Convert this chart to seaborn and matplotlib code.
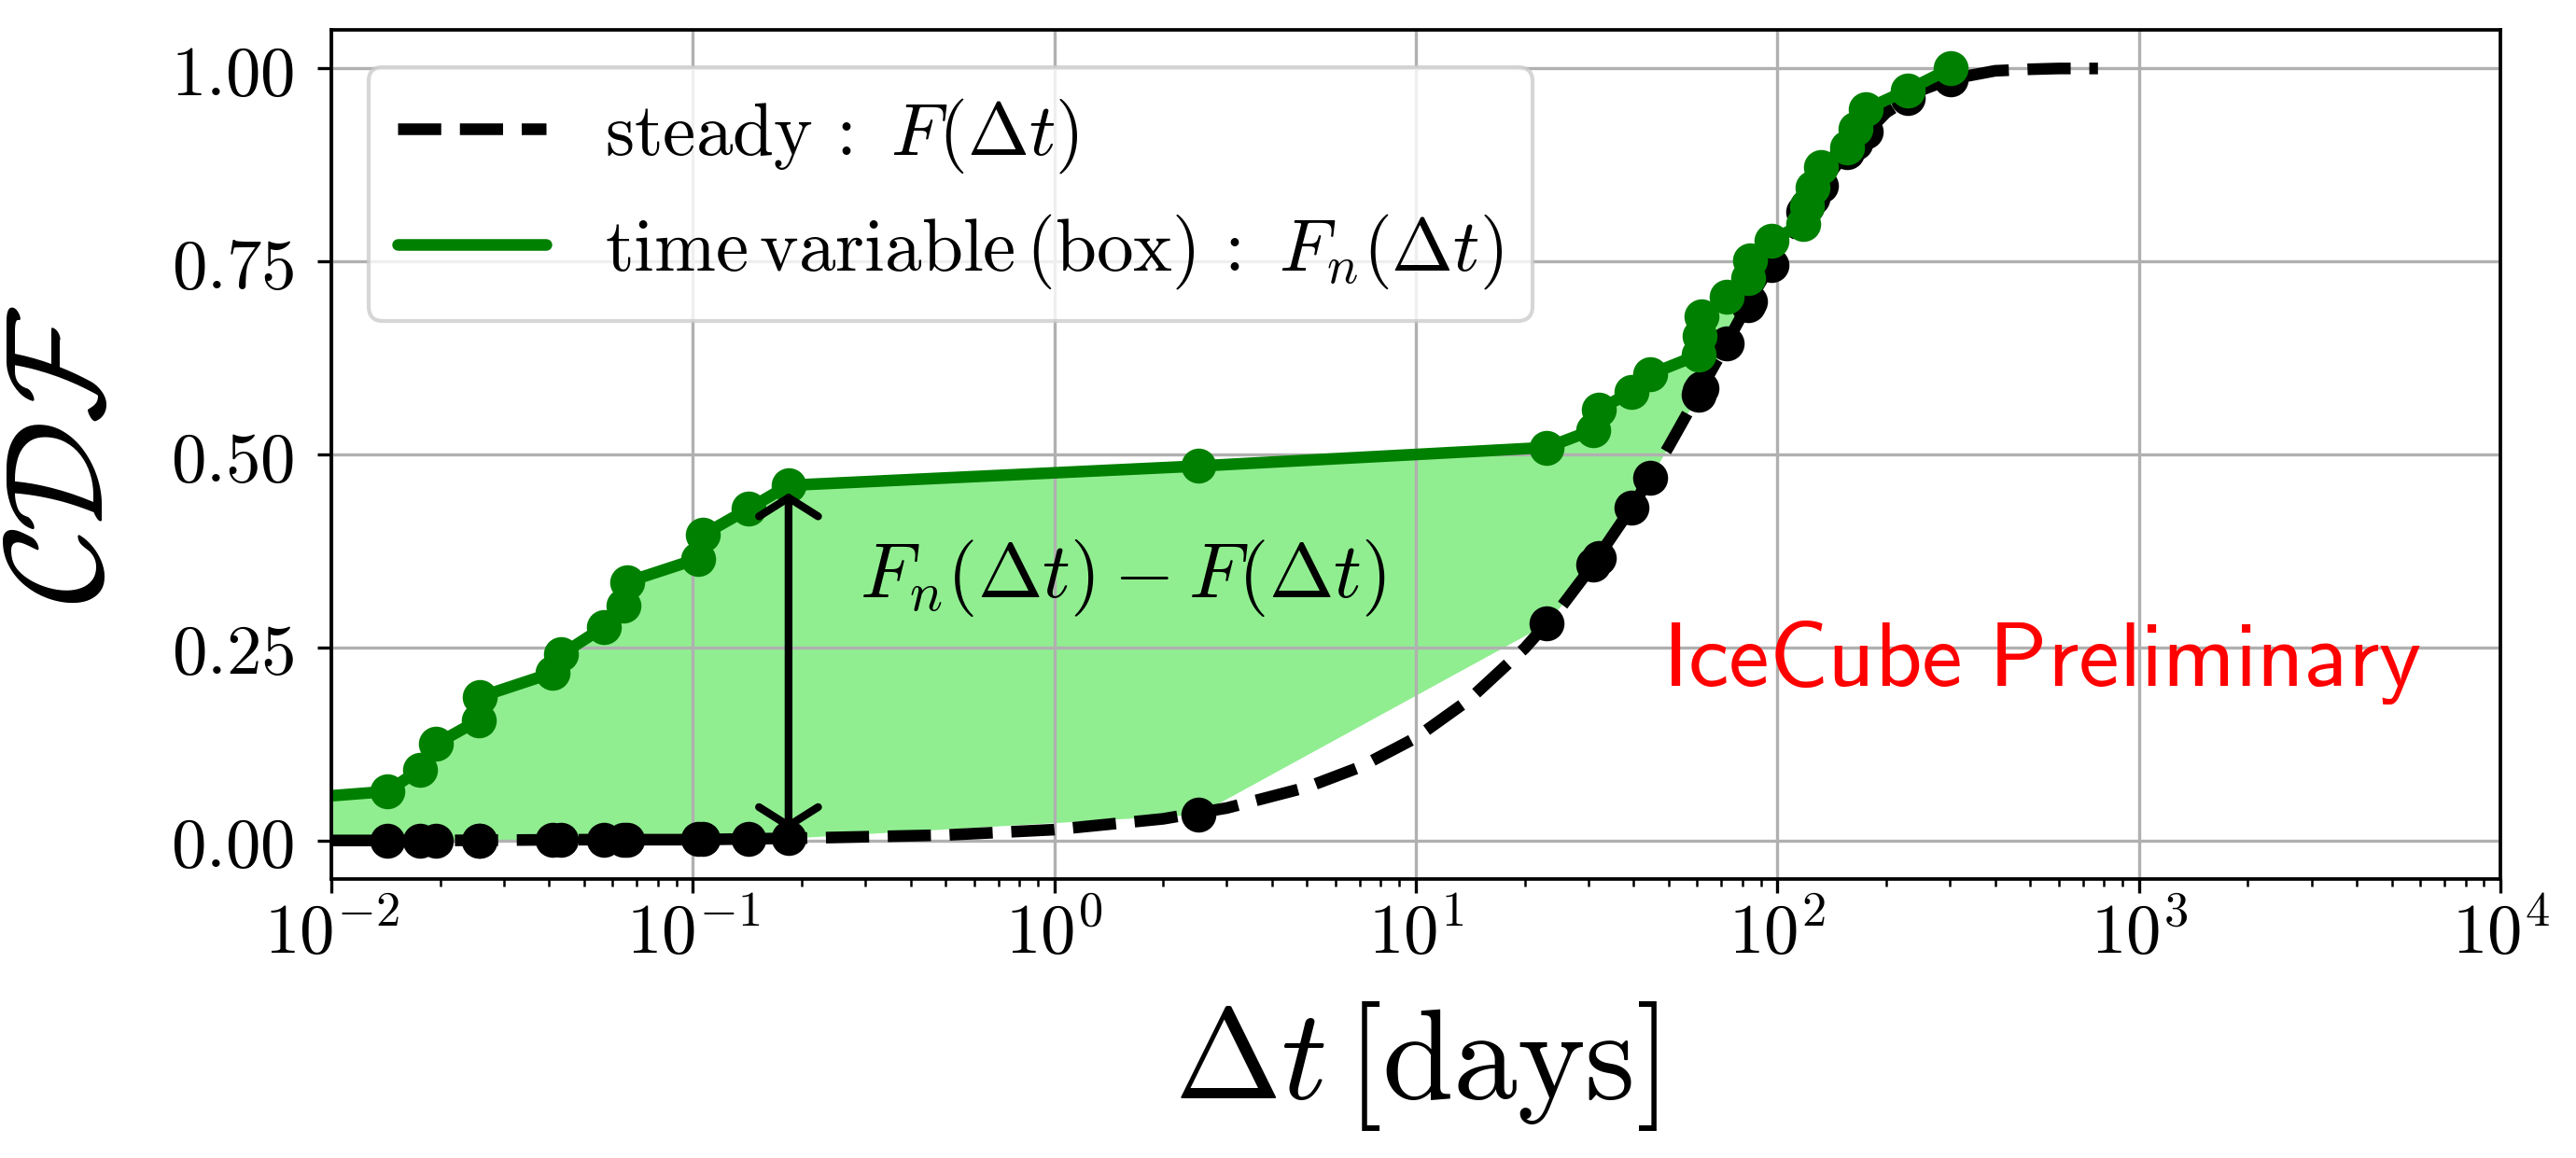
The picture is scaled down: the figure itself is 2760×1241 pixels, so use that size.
import numpy as np
import pandas as pd
import matplotlib
matplotlib.use("Agg")
import matplotlib.pyplot as plt
import seaborn as sns

# steady hypothesis F(dt), sampled along the dashed curve
curve_dt = [0.01, 0.02, 0.05, 0.1, 0.2, 0.5, 1.0, 2.0, 3.0, 5.0, 7.0, 10.0, 14.0, 20.0, 25.0,
            30.0, 40.0, 50.0, 60.0, 70.0, 85.0, 100.0, 120.0, 150.0, 200.0, 250.0, 300.0,
            400.0, 500.0, 600.0, 770.0]
curve_F = [0.000, 0.000, 0.001, 0.001, 0.003, 0.007, 0.014, 0.028, 0.042, 0.069, 0.095, 0.133,
           0.182, 0.249, 0.300, 0.349, 0.435, 0.510, 0.576, 0.632, 0.704, 0.760, 0.820, 0.883,
           0.943, 0.972, 0.986, 0.997, 0.999, 1.000, 1.000]

# observed time differences, time variable CDF Fn and steady CDF F at each of them
events_dt = [0.0017, 0.0143, 0.0176, 0.0195, 0.0256, 0.0258, 0.0409, 0.0433, 0.0569, 0.0644,
             0.0659, 0.1034, 0.1067, 0.143, 0.184, 2.5, 23.0, 31.0, 32.0, 39.5, 44.5, 60.5,
             61.0, 61.8, 72.3, 83.0, 84.0, 96.0, 118.0, 121.0, 125.0, 132.0, 156.0, 164.0,
             175.0, 229.0, 301.0]
events_Fn = [0.030, 0.0635, 0.092, 0.125, 0.156, 0.186, 0.217, 0.241, 0.277, 0.304, 0.335,
             0.365, 0.396, 0.430, 0.460, 0.485, 0.509, 0.532, 0.558, 0.581, 0.604, 0.629,
             0.653, 0.679, 0.704, 0.728, 0.752, 0.777, 0.799, 0.822, 0.846, 0.872, 0.898,
             0.922, 0.947, 0.972, 1.000]
events_F = [0.000, 0.000, 0.000, 0.000, 0.000, 0.000, 0.001, 0.001, 0.001, 0.001, 0.001,
            0.002, 0.002, 0.002, 0.003, 0.034, 0.281, 0.358, 0.366, 0.431, 0.470, 0.578,
            0.582, 0.586, 0.644, 0.694, 0.698, 0.746, 0.814, 0.822, 0.833, 0.848, 0.892,
            0.904, 0.918, 0.962, 0.986]

xticks = [1e-2, 1e-1, 1e0, 1e1, 1e2, 1e3, 1e4]
xtick_labels = [r"$10^{-2}$", r"$10^{-1}$", r"$10^{0}$", r"$10^{1}$", r"$10^{2}$",
                r"$10^{3}$", r"$10^{4}$"]
yticks = [0.0, 0.25, 0.5, 0.75, 1.0]
ytick_labels = [r"$0.00$", r"$0.25$", r"$0.50$", r"$0.75$", r"$1.00$"]

curve = pd.DataFrame({"dt": curve_dt, "F": curve_F})
events = pd.DataFrame({"dt": events_dt, "Fn": events_Fn, "F": events_F})

sns.set_style("ticks")
plt.rcParams["mathtext.fontset"] = "cm"
plt.rcParams["font.family"] = ["DejaVu Sans"]
for key in ["text.color", "axes.labelcolor", "xtick.color", "ytick.color", "axes.edgecolor"]:
    plt.rcParams[key] = "black"

fig = plt.figure(figsize=(9.2, 1241 / 300), dpi=300)
ax = fig.add_axes([0.1286, 0.2409, 0.8421, 0.7333])
ax.set_xscale("log")

ax.fill_between(events["dt"], events["F"], events["Fn"], color="lightgreen", lw=0, zorder=1)

sns.lineplot(data=curve, x="dt", y="F", ax=ax, color="black", lw=3, linestyle="--",
             estimator=None, sort=False, label=r"$\mathrm{steady}\,:\ F(\Delta t)$", zorder=2)
sns.scatterplot(data=events, x="dt", y="F", ax=ax, color="black", s=81, linewidth=0,
                zorder=2.1, legend=False)
sns.lineplot(data=events, x="dt", y="Fn", ax=ax, color="green", lw=3, estimator=None,
             sort=False, label=r"$\mathrm{time\,variable\,(box)}\,:\ F_n(\Delta t)$", zorder=2.2)
sns.scatterplot(data=events, x="dt", y="Fn", ax=ax, color="green", s=81, linewidth=0,
                zorder=2.3, legend=False)

# largest distance between the two CDFs
i_max = int(np.argmax(events["Fn"] - events["F"]))
ax.annotate("", xy=(events_dt[i_max], events_Fn[i_max]), xytext=(events_dt[i_max], events_F[i_max]),
            arrowprops=dict(arrowstyle="<->,head_length=0.24,head_width=0.38", lw=2.0,
                            color="black", mutation_scale=20), zorder=3)
ax.text(0.29, 0.34, r"$F_n(\Delta t) - F(\Delta t)$", fontsize=20, va="center")
ax.text(48, 0.20, r"$\mathsf{IceCube\ Preliminary}$", fontsize=23.5, color="red", va="baseline")

ax.set_xlim(1e-2, 1e4)
ax.set_ylim(-0.05, 1.05)
ax.set_xticks(xticks, labels=xtick_labels)
ax.xaxis.set_minor_formatter(matplotlib.ticker.NullFormatter())
ax.set_yticks(yticks, labels=ytick_labels)
ax.tick_params(axis="both", which="major", direction="out", length=3.5, width=0.8,
               color="black", labelcolor="black", labelsize=18)
ax.tick_params(axis="x", which="minor", direction="out", length=2, width=0.6, color="black")
ax.tick_params(axis="x", which="major", pad=2)
ax.tick_params(axis="y", which="major", pad=6)
for sp in ax.spines.values():
    sp.set_color("black")
    sp.set_linewidth(0.9)

ax.grid(True, which="major", color="#b0b0b0", lw=0.8)
ax.set_axisbelow("line")

ax.set_xlabel(r"$\Delta t\,[\mathrm{days}]$", fontsize=33, labelpad=8, color="black")
ax.set_ylabel(r"$\mathcal{CDF}$", fontsize=36, labelpad=10, color="black")

ax.legend(handles=ax.get_lines()[:2], loc="upper left", fontsize=19, framealpha=0.8,
          edgecolor="0.8", fancybox=True)

fig.savefig("out.png", dpi=300)
